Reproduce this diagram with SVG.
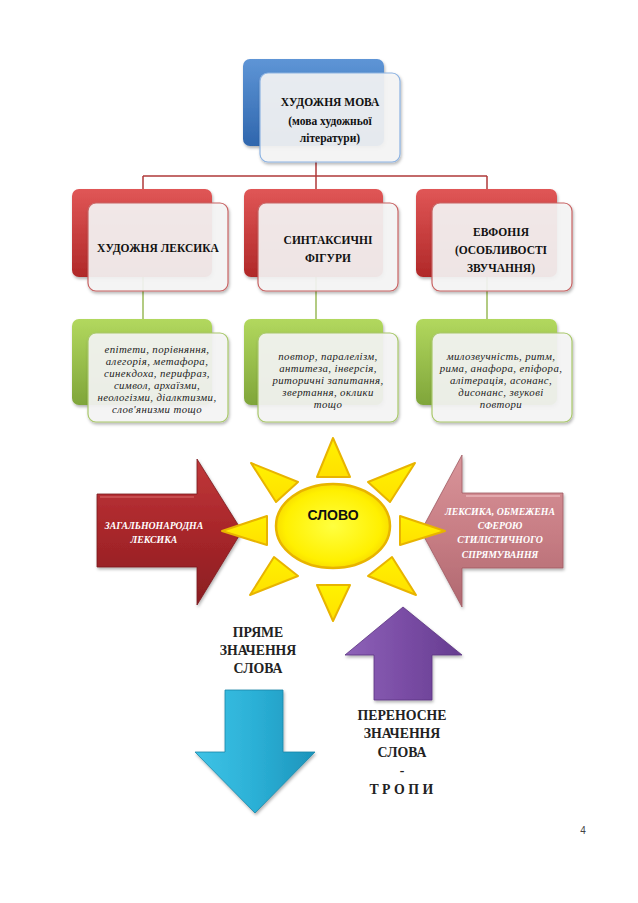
<svg xmlns="http://www.w3.org/2000/svg" width="638" height="903" viewBox="0 0 638 903">
<style>
.hd{font-weight:bold;font-size:11.5px;fill:#111;text-anchor:middle}
.it{font-style:italic;font-size:10.8px;letter-spacing:0.4px;fill:#222;text-anchor:middle}
.ar{font-style:italic;font-weight:bold;font-size:9.8px;fill:#fff;text-anchor:middle}
.big{font-weight:bold;font-size:13.8px;fill:#222;text-anchor:middle}
.card{fill:#f6f6f6;fill-opacity:0.9;stroke-width:1.2}
.ray{fill:url(#gRay);stroke:#E8B400;stroke-width:2;stroke-linejoin:round}
</style>
<defs>
<linearGradient id="gBlue" x1="0" y1="0" x2="0" y2="1"><stop offset="0" stop-color="#5E95D6"/><stop offset="1" stop-color="#2F66AD"/></linearGradient>
<linearGradient id="gRed" x1="0" y1="0" x2="0" y2="1"><stop offset="0" stop-color="#E05656"/><stop offset="1" stop-color="#B02828"/></linearGradient>
<linearGradient id="gGreen" x1="0" y1="0" x2="0" y2="1"><stop offset="0" stop-color="#B2D85E"/><stop offset="1" stop-color="#7FA53A"/></linearGradient>
<linearGradient id="gArRed" x1="0" y1="0" x2="0" y2="1"><stop offset="0" stop-color="#C0383A"/><stop offset="0.5" stop-color="#A8262A"/><stop offset="1" stop-color="#8A1E22"/></linearGradient>
<linearGradient id="gArPink" x1="0" y1="0" x2="0" y2="1"><stop offset="0" stop-color="#D9959A"/><stop offset="0.5" stop-color="#C87E85"/><stop offset="1" stop-color="#B06870"/></linearGradient>
<linearGradient id="gPurple" x1="0" y1="0" x2="1" y2="0"><stop offset="0" stop-color="#8E62B8"/><stop offset="0.5" stop-color="#7A4DA5"/><stop offset="1" stop-color="#663C90"/></linearGradient>
<linearGradient id="gCyan" x1="0" y1="0" x2="1" y2="0"><stop offset="0" stop-color="#3FC3E6"/><stop offset="0.5" stop-color="#2BB0D6"/><stop offset="1" stop-color="#1D94BB"/></linearGradient>
<radialGradient id="gSun" cx="0.5" cy="0.5" r="0.6"><stop offset="0" stop-color="#FFFF40"/><stop offset="0.7" stop-color="#FFF000"/><stop offset="1" stop-color="#F2C800"/></radialGradient>
<linearGradient id="gRay" x1="0" y1="0" x2="0" y2="1"><stop offset="0" stop-color="#FFF200"/><stop offset="1" stop-color="#FFE000"/></linearGradient>
<filter id="sh" x="-10%" y="-10%" width="130%" height="130%"><feDropShadow dx="1" dy="2" stdDeviation="1.5" flood-color="#000" flood-opacity="0.3"/></filter>
</defs>

<g id="connectors" fill="none" stroke-width="1.5">
<path d="M316 160 V176 M143 176 H487 M143 176 V192 M316 176 V192 M487 176 V192" stroke="#B03A3A"/>
<path d="M143 276 V322 M316 276 V322 M487 276 V322" stroke="#9BBB59"/>
</g>

<g font-family="Liberation Serif, DejaVu Serif, serif">
<g id="top">
<rect x="243" y="59" width="141" height="87" rx="7" fill="url(#gBlue)" filter="url(#sh)"/>
<rect class="card" x="260" y="73" width="140" height="89" rx="8" stroke="#8DB3E2" filter="url(#sh)"/>
<text class="hd" x="330" y="106">ХУДОЖНЯ МОВА</text>
<text class="hd" x="330" y="125">(мова художньої</text>
<text class="hd" x="330" y="142">літератури)</text>
</g>

<g id="lexika">
<rect x="72" y="189" width="140" height="88" rx="7" fill="url(#gRed)" filter="url(#sh)"/>
<rect class="card" x="88" y="203" width="140" height="88" rx="8" stroke="#C86464" filter="url(#sh)"/>
<text class="hd" x="158" y="252">ХУДОЖНЯ ЛЕКСИКА</text>
</g>

<g id="syntax">
<rect x="244" y="189" width="139" height="88" rx="7" fill="url(#gRed)" filter="url(#sh)"/>
<rect class="card" x="258" y="203" width="140" height="88" rx="8" stroke="#C86464" filter="url(#sh)"/>
<text class="hd" x="328" y="244">СИНТАКСИЧНІ</text>
<text class="hd" x="328" y="262">ФІГУРИ</text>
</g>

<g id="eufony">
<rect x="416" y="189" width="141" height="88" rx="7" fill="url(#gRed)" filter="url(#sh)"/>
<rect class="card" x="432" y="203" width="140" height="88" rx="8" stroke="#C86464" filter="url(#sh)"/>
<text class="hd" x="501" y="236">ЕВФОНІЯ</text>
<text class="hd" x="501" y="254">(ОСОБЛИВОСТІ</text>
<text class="hd" x="501" y="272">ЗВУЧАННЯ)</text>
</g>

<g id="lex-list">
<rect x="72" y="319" width="140" height="86" rx="7" fill="url(#gGreen)" filter="url(#sh)"/>
<rect class="card" x="88" y="333" width="140" height="89" rx="8" stroke="#A9C86C" filter="url(#sh)"/>
<text class="it" x="157" y="353">епітети, порівняння,</text>
<text class="it" x="157" y="365">алегорія, метафора,</text>
<text class="it" x="157" y="377">синекдоха, перифраз,</text>
<text class="it" x="157" y="389">символ, архаїзми,</text>
<text class="it" x="157" y="401">неологізми, діалктизми,</text>
<text class="it" x="157" y="413">слов'янизми тощо</text>
</g>

<g id="syn-list">
<rect x="244" y="319" width="139" height="86" rx="7" fill="url(#gGreen)" filter="url(#sh)"/>
<rect class="card" x="258" y="333" width="140" height="89" rx="8" stroke="#A9C86C" filter="url(#sh)"/>
<text class="it" x="328" y="360">повтор, паралелізм,</text>
<text class="it" x="328" y="372">антитеза, інверсія,</text>
<text class="it" x="328" y="384">риторичні запитання,</text>
<text class="it" x="328" y="396">звертання, оклики</text>
<text class="it" x="328" y="408">тощо</text>
</g>

<g id="euf-list">
<rect x="416" y="319" width="141" height="86" rx="7" fill="url(#gGreen)" filter="url(#sh)"/>
<rect class="card" x="432" y="333" width="140" height="89" rx="8" stroke="#A9C86C" filter="url(#sh)"/>
<text class="it" x="501" y="360">милозвучність, ритм,</text>
<text class="it" x="501" y="372">рима, анафора, епіфора,</text>
<text class="it" x="501" y="384">алітерація, асонанс,</text>
<text class="it" x="501" y="396">дисонанс, звукові</text>
<text class="it" x="501" y="408">повтори</text>
</g>

<g id="arrow-left">
<path d="M97 494 H197 V459 L242 531 L197 605 V567 H97 Z" fill="url(#gArRed)" stroke="#7A1A1E" stroke-width="0.8" filter="url(#sh)"/>
<path d="M100 497 H194" stroke="#D86A6A" stroke-width="1.5" opacity="0.7"/>
<text class="ar" x="154" y="529">ЗАГАЛЬНОНАРОДНА</text>
<text class="ar" x="154" y="543">ЛЕКСИКА</text>
</g>

<g id="arrow-right">
<path d="M563 493 H462 V455 L421 531 L462 607 V568 H563 Z" fill="url(#gArPink)" stroke="#A05A62" stroke-width="0.8" filter="url(#sh)"/>
<path d="M466 496 H560" stroke="#F0C0C4" stroke-width="1.5" opacity="0.8"/>
<text class="ar" x="500" y="515">ЛЕКСИКА, ОБМЕЖЕНА</text>
<text class="ar" x="500" y="529">СФЕРОЮ</text>
<text class="ar" x="500" y="543">СТИЛІСТИЧНОГО</text>
<text class="ar" x="500" y="558">СПРЯМУВАННЯ</text>
</g>

<g id="sun">
<polygon class="ray" points="333,438 317,477 350,477"/>
<polygon class="ray" points="251,463 298,482 276,502"/>
<polygon class="ray" points="415,463 368,482 390,502"/>
<polygon class="ray" points="222,531 267,516 267,545"/>
<polygon class="ray" points="445,531 400,516 400,545"/>
<polygon class="ray" points="274,557 298,576 250,595"/>
<polygon class="ray" points="392,557 368,576 416,595"/>
<polygon class="ray" points="317,585 350,585 333,621"/>
<ellipse cx="333" cy="526" rx="57" ry="42" fill="url(#gSun)" stroke="#E8B400" stroke-width="2.5"/>
<text x="333" y="520" font-family="Liberation Sans, sans-serif" font-weight="bold" font-size="14" text-anchor="middle" fill="#111">СЛОВО</text>
</g>

<g id="arrow-up">
<path d="M403 607 L462 655 H432 V700 H374 V655 H345 Z" fill="url(#gPurple)" stroke="#5A3480" stroke-width="0.8" filter="url(#sh)"/>
</g>

<g id="arrow-down">
<path d="M225 690 H283 V752 H315 L255 813 L195 752 H225 Z" fill="url(#gCyan)" stroke="#1A86A8" stroke-width="0.8" filter="url(#sh)"/>
</g>

<g id="direct">
<text class="big" x="258" y="637">ПРЯМЕ</text>
<text class="big" x="258" y="655">ЗНАЧЕННЯ</text>
<text class="big" x="258" y="673">СЛОВА</text>
</g>

<g id="figurative">
<text class="big" x="402" y="720">ПЕРЕНОСНЕ</text>
<text class="big" x="402" y="738">ЗНАЧЕННЯ</text>
<text class="big" x="402" y="757">СЛОВА</text>
<text class="big" x="402" y="775">-</text>
<text class="big" x="403" y="794" letter-spacing="3.5">ТРОПИ</text>
</g>
</g>

<text x="583" y="834" font-family="Liberation Sans, sans-serif" font-size="10" fill="#444" text-anchor="middle">4</text>
</svg>
